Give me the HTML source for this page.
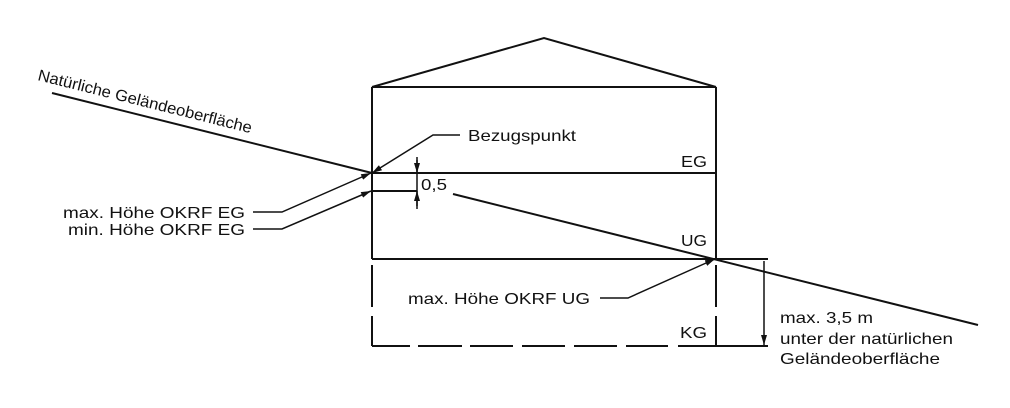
<!DOCTYPE html>
<html><head><meta charset="utf-8"><style>html,body{margin:0;padding:0;background:#fff}svg{display:block}</style></head>
<body>
<svg width="1010" height="408" viewBox="0 0 1010 408" xmlns="http://www.w3.org/2000/svg" font-family="Liberation Sans, Arial, sans-serif" fill="#111">
<defs>
<marker id="a" viewBox="0 0 10 6" refX="10" refY="3" markerWidth="10" markerHeight="6" orient="auto" markerUnits="userSpaceOnUse"><path d="M0,0 L10,3 L0,6 z" fill="#111"/></marker>
</defs>
<g stroke="#111" stroke-width="2" fill="none">
<polyline points="372,87 544,38 716,87"/>
<line x1="372" y1="87" x2="716" y2="87"/>
<line x1="372" y1="87" x2="372" y2="259"/>
<line x1="716" y1="87" x2="716" y2="259"/>
<line x1="372" y1="173" x2="716" y2="173"/>
<line x1="372" y1="259" x2="768" y2="259"/>
<line x1="372" y1="191" x2="417" y2="191"/>
<line x1="372" y1="265" x2="372" y2="307"/>
<line x1="372" y1="316" x2="372" y2="346"/>
<line x1="716" y1="265" x2="716" y2="307"/>
<line x1="716" y1="316" x2="716" y2="346"/>
<path d="M372,346 H410 M418,346 H462 M470,346 H513 M522,346 H565 M574,346 H617 M626,346 H668 M678,346 H716"/>
<line x1="716" y1="346" x2="768" y2="346"/>
<line x1="52" y1="93" x2="372" y2="173"/>
<line x1="453" y1="194" x2="978" y2="325"/>
</g>
<g stroke="#111" stroke-width="1.5" fill="none">
<polyline points="460,135 433,135 372,173" marker-end="url(#a)"/>
<polyline points="253,212 282,212 371,173" marker-end="url(#a)"/>
<polyline points="253,229 282,229 371,191" marker-end="url(#a)"/>
<polyline points="600,298 628,298 715,259" marker-end="url(#a)"/>
<line x1="417" y1="157" x2="417" y2="209"/>
<line x1="417" y1="160" x2="417" y2="173" marker-end="url(#a)"/>
<line x1="417" y1="206" x2="417" y2="191" marker-end="url(#a)"/>
<line x1="764" y1="261" x2="764" y2="345" marker-end="url(#a)"/>
</g>
<g font-size="16">
<text x="37" y="80" transform="rotate(14 37 80)" textLength="220" lengthAdjust="spacingAndGlyphs">Natürliche Geländeoberfläche</text>
<text x="468" y="141" textLength="108" lengthAdjust="spacingAndGlyphs">Bezugspunkt</text>
<text x="681" y="167" textLength="26" lengthAdjust="spacingAndGlyphs">EG</text>
<text x="681" y="246" textLength="26" lengthAdjust="spacingAndGlyphs">UG</text>
<text x="680" y="338" textLength="27" lengthAdjust="spacingAndGlyphs">KG</text>
<text x="421" y="190" textLength="26" lengthAdjust="spacingAndGlyphs">0,5</text>
<text x="63" y="218" textLength="182" lengthAdjust="spacingAndGlyphs">max. Höhe OKRF EG</text>
<text x="68" y="235" textLength="177" lengthAdjust="spacingAndGlyphs">min. Höhe OKRF EG</text>
<text x="408" y="304" textLength="182" lengthAdjust="spacingAndGlyphs">max. Höhe OKRF UG</text>
<text x="780" y="323" textLength="93" lengthAdjust="spacingAndGlyphs">max. 3,5 m</text>
<text x="780" y="344" textLength="173" lengthAdjust="spacingAndGlyphs">unter der natürlichen</text>
<text x="780" y="364" textLength="160" lengthAdjust="spacingAndGlyphs">Geländeoberfläche</text>
</g>
</svg>
</body></html>
